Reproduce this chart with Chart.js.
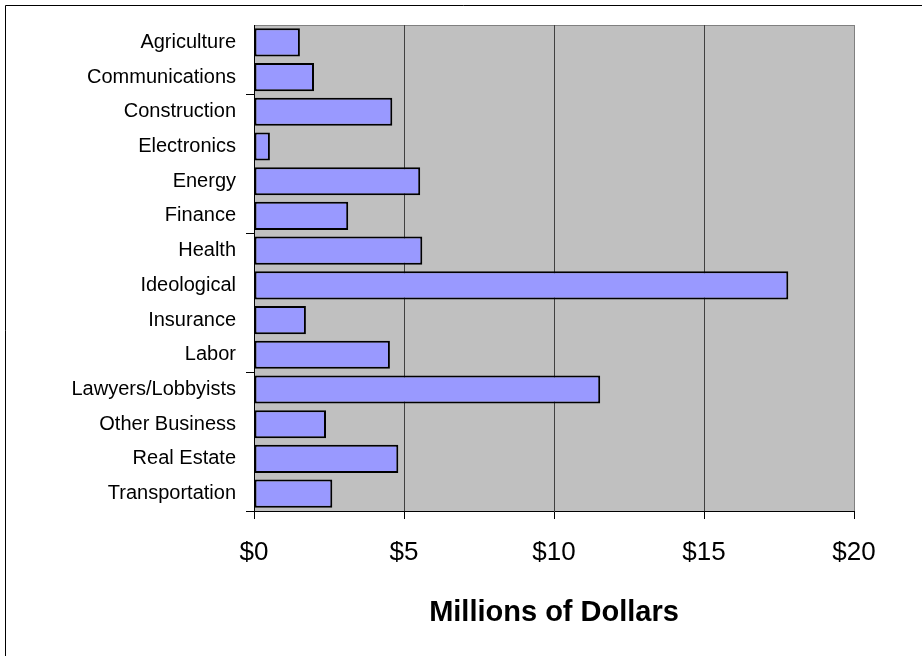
<!DOCTYPE html>
<html>
<head>
<meta charset="utf-8">
<script src="https://cdn.jsdelivr.net/npm/chart.js@4"></script>
<style>
  html, body { margin: 0; padding: 0; background: #fff; }
  #wrap { width: 922px; height: 656px; position: relative; }
</style>
</head>
<body>
<div id="wrap"><canvas id="sectors-chart" width="922" height="656"></canvas></div>
<script>
// data
const sectors = [
	'Agriculture',
	'Communications',
	'Construction',
	'Electronics',
	'Energy',
	'Finance',
	'Health',
	'Ideological',
	'Insurance',
	'Labor',
	'Lawyers/Lobbyists',
	'Other Business',
	'Real Estate',
	'Transportation',
];
const amounts = [1.53, 2.0, 4.61, 0.53, 5.54, 3.14, 5.61, 17.81, 1.73, 4.53, 11.54, 2.4, 4.81, 2.61];
const xTicks = [0, 5, 10, 15, 20];
const axisTitle = 'Millions of Dollars';

// gray plot area + outer frame
const plotBackground = {
	id: 'plotBackground',
	beforeDraw(chart) {
		const { ctx, chartArea: a } = chart;
		ctx.save();
		ctx.fillStyle = '#fff';
		ctx.fillRect(0, 0, chart.width, chart.height);
		ctx.strokeStyle = '#000';
		ctx.lineWidth = 1;
		ctx.beginPath();
		ctx.moveTo(5.5, chart.height);
		ctx.lineTo(5.5, 5.5);
		ctx.lineTo(chart.width, 5.5);
		ctx.stroke();
		ctx.fillStyle = '#C0C0C0';
		ctx.fillRect(a.left, a.top, a.right - a.left, a.bottom - a.top);
		ctx.strokeStyle = '#808080';
		ctx.beginPath();
		ctx.moveTo(a.left, a.top + 0.5);
		ctx.lineTo(a.right, a.top + 0.5);
		ctx.stroke();
		ctx.restore();
	}
};

document.addEventListener('DOMContentLoaded', function () {
	const box = document.querySelector('#sectors-chart');
	const sectorsChart = new Chart(box, {
		type: 'bar',
		data: {
			labels: sectors,
			datasets: [{
				data: amounts,
				backgroundColor: '#9999FF',
				borderColor: '#000',
				borderWidth: 2,
				borderSkipped: false,
				barPercentage: 0.81,
				categoryPercentage: 1
			}]
		},
		options: {
			indexAxis: 'y',
			responsive: false,
			animation: false,
			layout: { padding: { top: 25, right: 68, bottom: 0, left: 0 } },
			plugins: {
				legend: { display: false },
				tooltip: { enabled: false }
			},
			scales: {
				x: {
					min: 0,
					max: 20,
					afterBuildTicks: function (scale) {
						scale.ticks = xTicks.map(v => ({ value: v }));
					},
					afterFit: function (scale) { scale.height = 145; },
					grid: {
						color: function (ctx) {
							if (ctx.index === 0) return 'transparent';
							if (ctx.index === xTicks.length - 1) return '#808080';
							return '#404040';
						},
						tickColor: '#000',
						tickLength: 8,
						lineWidth: 1
					},
					border: { display: true, color: '#000', width: 1 },
					ticks: {
						color: '#000',
						padding: 18,
						font: { family: 'Liberation Sans, Arial', size: 26 },
						callback: function (v) { return '$' + v; }
					},
					title: {
						display: true,
						text: axisTitle,
						color: '#000',
						font: { family: 'Liberation Sans, Arial', size: 29, weight: 'bold' },
						padding: { top: 0, bottom: 26 }
					}
				},
				y: {
					afterFit: function (scale) { scale.width = 254; },
					grid: {
						drawOnChartArea: false,
						tickLength: 8,
						tickColor: function (ctx) {
							// tick marks every 4 categories counted from the bottom
							if (ctx.index === undefined) return '#000';
							return (sectors.length - ctx.index) % 4 === 0 ? '#000' : 'transparent';
						}
					},
					border: { display: true, color: '#000', width: 1 },
					ticks: {
						color: '#000',
						padding: 10,
						autoSkip: false,
						font: { family: 'Liberation Sans, Arial', size: 20 }
					}
				}
			}
		},
		plugins: [plotBackground]
	});
});
</script>
</body>
</html>
